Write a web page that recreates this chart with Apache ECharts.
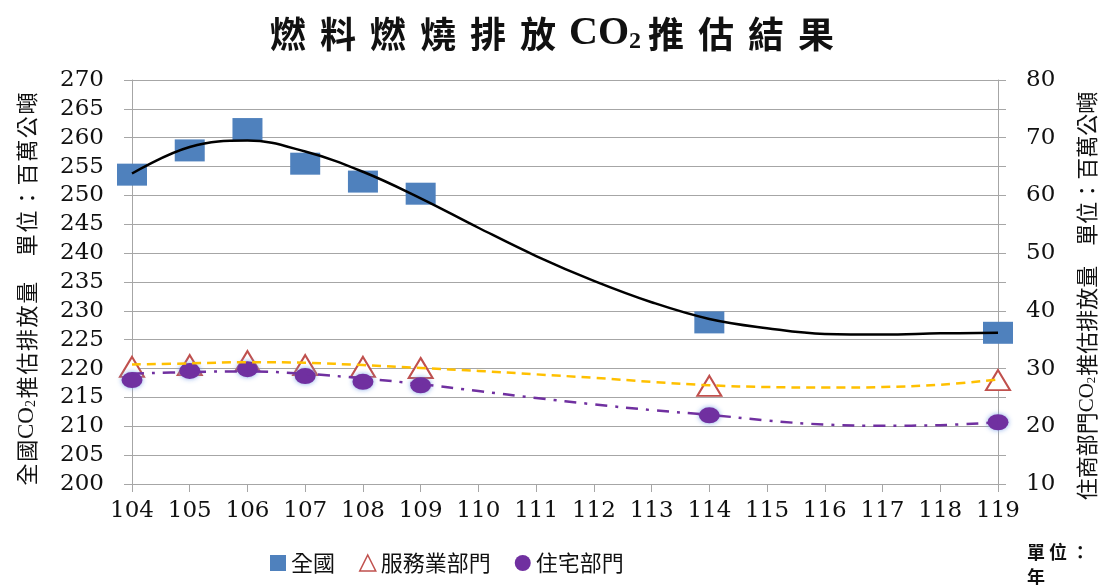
<!DOCTYPE html>
<html>
<head>
<meta charset="utf-8">
<script src="https://cdn.jsdelivr.net/npm/echarts@6/dist/echarts.min.js"></script>
<style>
html,body{margin:0;padding:0;background:#fff;}
#chart{width:1104px;height:585px;}
</style>
</head>
<body>
<div id="chart"></div>
<script>
var years = ['104','105','106','107','108','109','110','111','112','113','114','115','116','117','118','119'];
var leftTicks = [200, 270, 5];
var rightTicks = [10, 80, 5];
var national = [253.6, 257.8, 261.5, 255.5, 252.4, 250.3, null, null, null, null, 228.0, null, null, null, null, 226.2];
var nationalTrend = [253.8, 258.4, 259.5, 257.6, 254.1, 249.5, 244.4, 239.5, 235.2, 231.5, 228.6, 227.0, 226.0, 225.9, 226.1, 226.2];
var service = [30.3, 30.6, 31.3, 30.6, 30.3, 30.1, null, null, null, null, 27.0, null, null, null, null, 28.0];
var serviceTrend = [30.7, 30.9, 31.1, 31.0, 30.6, 30.1, 29.6, 29.0, 28.4, 27.7, 27.1, 26.8, 26.7, 26.8, 27.2, 28.1];
var residential = [28.0, 29.6, 29.9, 28.7, 27.7, 27.1, null, null, null, null, 21.9, null, null, null, null, 20.7];
var residentialTrend = [29.1, 29.4, 29.5, 29.1, 28.3, 27.3, 26.1, 24.9, 23.8, 22.8, 22.0, 21.0, 20.3, 20.1, 20.2, 20.7];

var cjk = '"Noto Sans CJK TC", "Noto Sans CJK SC", sans-serif';
var serif = '"DejaVu Serif", "Liberation Serif", serif';
var gridColor = '#A6A6A6';

function spaced(str, style) {
  return str.split('').map(function (ch) { return '{' + style + '|' + ch + '}'; }).join('');
}
var titleText = spaced('燃料燃燒排放', 'a') + '{c|CO}{s|2}' + spaced('推估結果', 'a');
var leftName = spaced('全國', 'a') + '{c|CO}{s|2}' + spaced('推估排放量', 'a') + '{g| }' + spaced('單位：百萬公噸', 'a');
var rightName = '{a|住商部門}{c|CO}{s|2}{a|推估排放量}{g| }{a|單位：百萬公噸}';

var chart = echarts.init(document.getElementById('chart'));
chart.setOption({
  animation: false,
  backgroundColor: '#fff',
  title: {
    left: 'center',
    top: 9,
    text: titleText,
    textStyle: {
      rich: {
        a: {fontFamily: cjk, fontSize: 36, fontWeight: 'bold', color: '#111', padding: [0, 7, 0, 7]},
        c: {fontFamily: '"Liberation Serif", serif', fontSize: 40, fontWeight: 'bold', color: '#111', padding: [0, 0, 0, 6]},
        s: {fontFamily: '"Liberation Serif", serif', fontSize: 24, fontWeight: 'bold', color: '#111', padding: [16, 0, 0, 0]}
      }
    }
  },
  legend: {
    left: 265, top: 547,
    itemWidth: 16, itemHeight: 16, itemGap: 24,
    textStyle: {fontFamily: cjk, fontSize: 22, color: '#111'},
    data: [
      {name: '全國', icon: 'rect'},
      {name: '服務業部門', icon: 'triangle', itemStyle: {color: '#fff', borderColor: '#C0504D', borderWidth: 1.5}},
      {name: '住宅部門', icon: 'circle'}
    ]
  },
  grid: {left: 132, right: 106, top: 80, bottom: 101},
  xAxis: {
    type: 'category', data: years, boundaryGap: false,
    axisLine: {lineStyle: {color: gridColor}},
    axisTick: {show: true, length: 8, lineStyle: {color: gridColor}},
    axisLabel: {fontFamily: serif, fontSize: 23, color: '#111', margin: 16},
    splitLine: {show: false}
  },
  yAxis: [
    {
      type: 'value', min: leftTicks[0], max: leftTicks[1], interval: leftTicks[2],
      axisLine: {show: true, lineStyle: {color: gridColor}},
      axisTick: {show: true, length: 8, lineStyle: {color: gridColor}},
      axisLabel: {fontFamily: serif, fontSize: 23, color: '#111', margin: 28},
      splitLine: {show: true, lineStyle: {color: gridColor, width: 1}}
    },
    {
      type: 'value', min: rightTicks[0], max: rightTicks[1], interval: rightTicks[2],
      position: 'right',
      axisLine: {show: true, lineStyle: {color: gridColor}},
      axisTick: {show: true, length: 8, lineStyle: {color: gridColor}},
      axisLabel: {fontFamily: serif, fontSize: 23, color: '#111', margin: 28,
        formatter: function (v) { return v % 10 === 0 ? String(v) : ''; }},
      splitLine: {show: false}
    }
  ],
  series: [
    {name: '全國', type: 'scatter', yAxisIndex: 0, data: national, symbol: 'rect', symbolSize: [30, 22],
      itemStyle: {color: '#4F81BD', opacity: 1}, z: 2},
    {name: '全國趨勢', type: 'line', yAxisIndex: 0, data: nationalTrend, smooth: 0.4, showSymbol: false, symbol: 'none',
      lineStyle: {color: '#000', width: 2.5}, z: 5, silent: true},
    {name: '服務業部門', type: 'scatter', yAxisIndex: 1, data: service, symbol: 'triangle', symbolSize: [24, 20],
      itemStyle: {color: '#fff', borderColor: '#C0504D', borderWidth: 2, opacity: 1}, z: 2},
    {name: '服務業趨勢', type: 'line', yAxisIndex: 1, data: serviceTrend, smooth: 0.4, showSymbol: false, symbol: 'none',
      lineStyle: {color: '#FFC000', width: 2.5, type: [9, 6]}, z: 5, silent: true},
    {name: '住宅部門', type: 'scatter', yAxisIndex: 1, data: residential, symbol: 'circle', symbolSize: [21, 16],
      itemStyle: {color: '#7030A0', opacity: 1, shadowBlur: 5, shadowColor: 'rgba(120,160,230,0.9)'}, z: 2},
    {name: '住宅趨勢', type: 'line', yAxisIndex: 1, data: residentialTrend, smooth: 0.4, showSymbol: false, symbol: 'none',
      lineStyle: {color: '#7030A0', width: 2.5, type: [12, 8, 3, 8]}, z: 5, silent: true}
  ],
  graphic: [
    {type: 'text', x: 27, y: 289, rotation: Math.PI / 2,
      style: {text: leftName, textAlign: 'center', textVerticalAlign: 'middle',
        rich: {
          a: {fontFamily: cjk, fontSize: 22, fill: '#111', padding: [0, 0.8, 0, 0.8]},
          c: {fontFamily: '"Liberation Serif", serif', fontSize: 23, fill: '#111'},
          s: {fontFamily: '"Liberation Serif", serif', fontSize: 14, fill: '#111', padding: [9, 1, 0, 0]},
          g: {fontFamily: cjk, fontSize: 22, width: 24}
        }}},
    {type: 'text', x: 1087, y: 296, rotation: Math.PI / 2,
      style: {text: rightName, textAlign: 'center', textVerticalAlign: 'middle',
        rich: {
          a: {fontFamily: cjk, fontSize: 22, fill: '#111'},
          c: {fontFamily: '"Liberation Serif", serif', fontSize: 21, fill: '#111'},
          s: {fontFamily: '"Liberation Serif", serif', fontSize: 13, fill: '#111', padding: [9, 1, 0, 0]},
          g: {fontFamily: cjk, fontSize: 22, width: 20}
        }}},
    {type: 'text', x: 1027, y: 543,
      style: {text: '單 位 ：', fontFamily: cjk, fontSize: 18, fontWeight: 'bold', fill: '#111'}},
    {type: 'text', x: 1027, y: 568,
      style: {text: '年', fontFamily: cjk, fontSize: 18, fontWeight: 'bold', fill: '#111'}}
  ]
});
</script>
</body>
</html>
